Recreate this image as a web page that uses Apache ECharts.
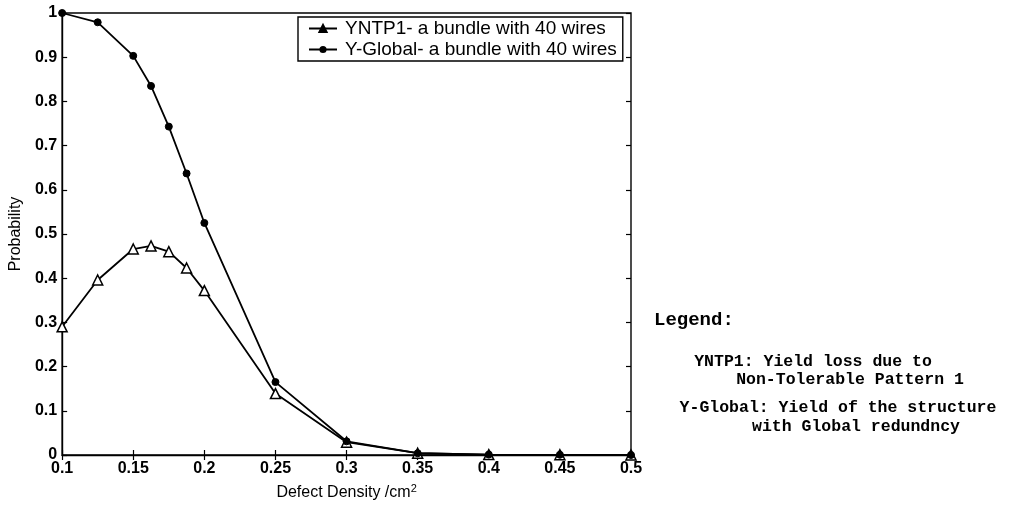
<!DOCTYPE html>
<html>
<head>
<meta charset="utf-8">
<script src="https://cdn.jsdelivr.net/npm/echarts@6/dist/echarts.min.js"></script>
<style>html,body{margin:0;padding:0;background:#fff}#c{width:1024px;height:508px}</style>
</head>
<body>
<div id="c"></div>
<script>
const defectDensity = [0.1, 0.125, 0.15, 0.1625, 0.175, 0.1875, 0.2, 0.25, 0.3, 0.35, 0.4, 0.45, 0.5];
const yntp1 = [0.29, 0.396, 0.466, 0.473, 0.46, 0.423, 0.372, 0.139, 0.029, 0.004, 0.001, 0.0005, 0.0];
const yGlobal = [1.0, 0.979, 0.903, 0.835, 0.743, 0.637, 0.525, 0.165, 0.031, 0.004, 0.001, 0.0005, 0.0];
const seriesNames = ['YNTP1- a bundle with 40 wires', 'Y-Global- a bundle with 40 wires'];
const xTitle = 'Defect Density /cm';
const yTitle = 'Probability';
const noteTitle = 'Legend:';
const noteLines = [
  'YNTP1: Yield loss due to',
  'Non-Tolerable Pattern 1',
  'Y-Global: Yield of the structure',
  'with Global redundncy'
];

const chart = echarts.init(document.getElementById('c'));
const pair = (xs, ys) => xs.map((x, i) => [x, ys[i]]);
const sans = 'Liberation Sans, Arial, sans-serif';
const labelFont = {color: '#000', fontFamily: sans, fontSize: 16, fontWeight: 'bold'};
const monoFont = 'Liberation Mono, Courier New, monospace';
const noteText = (t, cx, y) => ({
  type: 'text', x: cx, y: y,
  style: {text: t, font: 'bold 16.5px ' + monoFont, fill: '#000', align: 'center', verticalAlign: 'middle'}
});

chart.setOption({
  animation: false,
  backgroundColor: '#fff',
  grid: {left: 61, right: 393, top: 13, bottom: 53, show: true, borderColor: '#000', borderWidth: 1.4},
  legend: {
    orient: 'vertical', left: 298, top: 17,
    data: [{name: seriesNames[0], itemStyle: {color: '#000'}}, {name: seriesNames[1]}],
    borderColor: '#000', borderWidth: 1.4, backgroundColor: '#fff',
    padding: [2, 6, 2, 10], itemGap: 2, itemWidth: 28, itemHeight: 9,
    textStyle: {color: '#000', fontFamily: sans, fontSize: 19, padding: [0, 0, 0, 3]}
  },
  xAxis: [{
    type: 'value', min: 0.1, max: 0.5, interval: 0.05,
    axisLine: {lineStyle: {color: '#000', width: 1.4}},
    axisTick: {inside: true, length: 5, lineStyle: {color: '#000', width: 1.2}},
    splitLine: {show: false},
    axisLabel: Object.assign({margin: 6, formatter: v => String(+v.toFixed(2))}, labelFont),
    name: xTitle + '{sup|2}', nameLocation: 'middle', nameGap: 28,
    nameTextStyle: {
      color: '#000', fontFamily: sans, fontSize: 16,
      rich: {sup: {fontSize: 11, verticalAlign: 'top', padding: [0, 0, 9, 0], color: '#000'}}
    }
  }, {
    type: 'value', min: 0.1, max: 0.5, interval: 0.05, position: 'top',
    axisLine: {show: false}, axisLabel: {show: false}, splitLine: {show: false},
    axisTick: {inside: true, length: 5, lineStyle: {color: '#000', width: 1.2}}
  }],
  yAxis: [{
    type: 'value', min: 0, max: 1, interval: 0.1,
    axisLine: {show: true, lineStyle: {color: '#000', width: 1.4}},
    axisTick: {show: true, inside: true, length: 5, lineStyle: {color: '#000', width: 1.2}},
    splitLine: {show: false},
    axisLabel: Object.assign({margin: 5, formatter: v => String(+v.toFixed(1))}, labelFont),
    name: yTitle, nameLocation: 'middle', nameGap: 36, nameRotate: 90,
    nameTextStyle: {color: '#000', fontFamily: sans, fontSize: 16}
  }, {
    type: 'value', min: 0, max: 1, interval: 0.1, position: 'right',
    axisLine: {show: false}, axisLabel: {show: false}, splitLine: {show: false},
    axisTick: {show: true, inside: true, length: 5, lineStyle: {color: '#000', width: 1.2}}
  }],
  series: [{
    name: seriesNames[0], type: 'line', data: pair(defectDensity, yntp1),
    symbol: 'triangle', symbolSize: 10,
    lineStyle: {color: '#000', width: 1.8},
    itemStyle: {color: '#fff', borderColor: '#000', borderWidth: 1.5}
  }, {
    name: seriesNames[1], type: 'line', data: pair(defectDensity, yGlobal),
    symbol: 'circle', symbolSize: 7,
    lineStyle: {color: '#000', width: 1.8},
    itemStyle: {color: '#000', borderColor: '#000'}
  }],
  graphic: [
    {type: 'text', left: 654, top: 311, style: {text: noteTitle, font: 'bold 19px ' + monoFont, fill: '#000'}},
    noteText(noteLines[0], 813, 362),
    noteText(noteLines[1], 850, 380),
    noteText(noteLines[2], 838, 408),
    noteText(noteLines[3], 856, 427)
  ]
});
</script>
</body>
</html>
